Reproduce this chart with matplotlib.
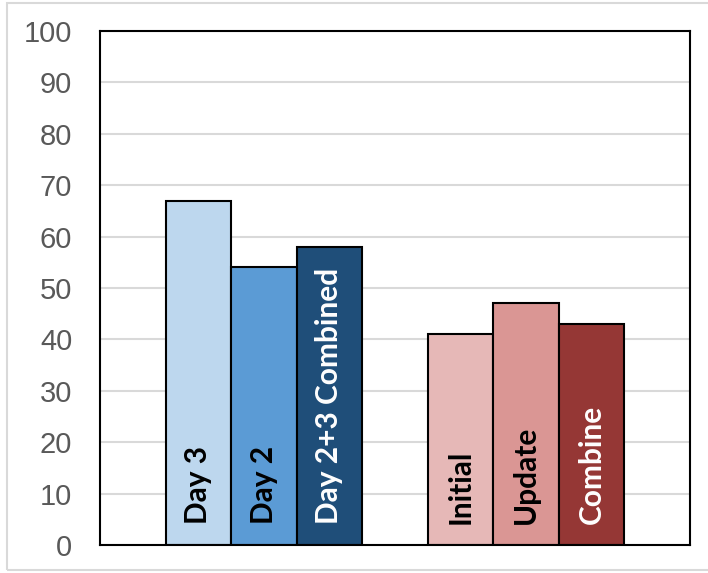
import matplotlib.pyplot as plt
from matplotlib.patches import Rectangle

# bar labels, values and colours (two groups of three)
labels = ["Day 3", "Day 2", "Day 2+3 Combined", "Initial", "Update", "Combine"]
values = [67, 54, 58, 41, 47, 43]
colors = ["#bdd7ee", "#5b9bd5", "#1f4e79", "#e6b8b7", "#da9694", "#953735"]
text_colors = ["black", "black", "white", "black", "black", "white"]
positions = [1.5, 2.5, 3.5, 5.5, 6.5, 7.5]

fig = plt.figure(figsize=(7.08, 5.73), dpi=100)
ax = fig.add_axes([100 / 708, 1 - 545 / 573, 590 / 708, 514 / 573])

ax.bar(positions, values, width=1.0, color=colors, edgecolor="black",
       linewidth=1.5, zorder=3)

for x, lab, tc in zip(positions, labels, text_colors):
    ax.text(x, 4.0, lab, rotation=90, ha="center", va="bottom",
            color=tc, fontsize=21.5, fontweight="bold", family="Lato", zorder=4)

ax.set_xlim(0, 9)
ax.set_ylim(0, 100)
ax.set_yticks(range(0, 101, 10))
ax.set_xticks([])
ax.yaxis.grid(True, color="#d9d9d9", linewidth=1.5, zorder=0)
ax.tick_params(axis="y", length=0, pad=20, labelsize=21, labelcolor="#595959")
for lbl in ax.get_yticklabels():
    lbl.set_family("Liberation Sans")
for sp in ax.spines.values():
    sp.set_linewidth(1.5)
    sp.set_color("black")
    sp.set_zorder(5)

# light frame around the whole chart
fig.patches.append(Rectangle((7 / 708, 1 - 570 / 573), 1.0, 567 / 573,
                             transform=fig.transFigure, fill=False,
                             edgecolor="#d9d9d9", linewidth=1.5))

fig.savefig("out.png", dpi=100)
